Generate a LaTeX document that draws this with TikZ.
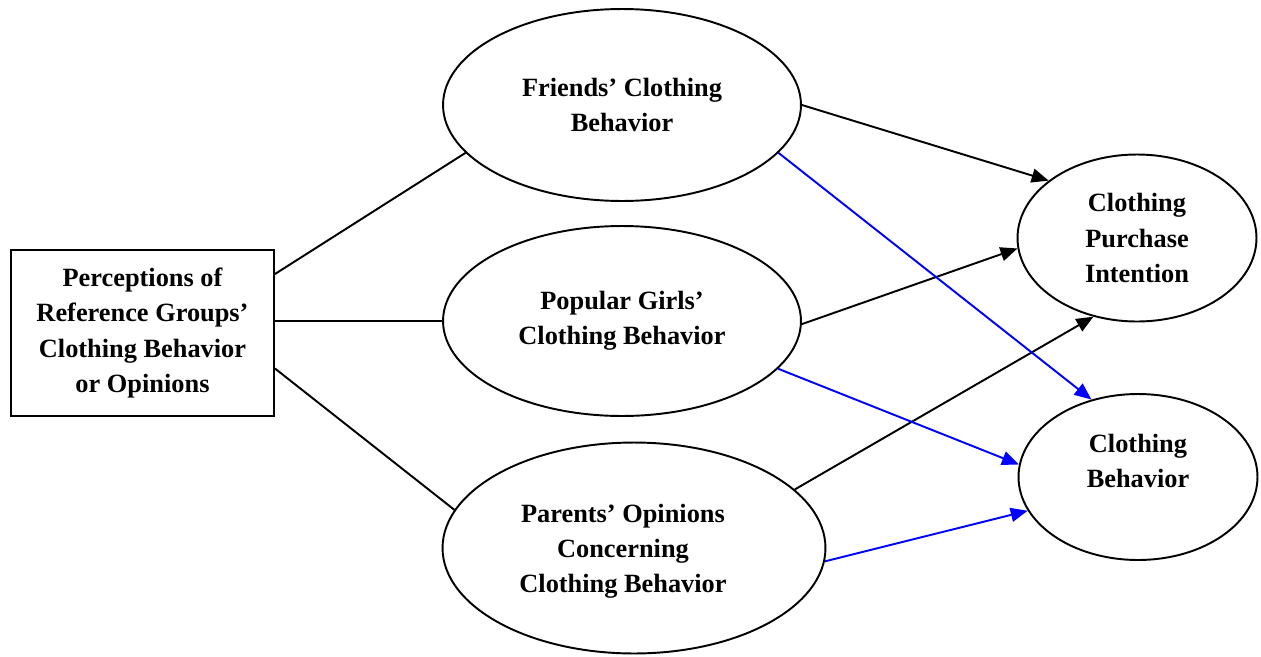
\documentclass[tikz,border=0pt]{standalone}
\usepackage{fontspec}
\setmainfont{Liberation Serif}
\usetikzlibrary{shapes.geometric,arrows.meta}
\definecolor{linkblue}{RGB}{0,0,255}

\begin{document}
\begin{tikzpicture}[x=0.02cm,y=-0.02cm,
  txt/.style={font=\fontsize{15}{20}\selectfont\bfseries,align=center},
  oval/.style={ellipse,draw,line width=1.1pt,inner sep=0pt,txt},
  factor/.style={rectangle,draw,line width=1.1pt,inner sep=0pt,txt,
    minimum width=5.26cm,minimum height=3.32cm},
  link/.style={line width=1.1pt},
  toint/.style={link,-{Triangle[length=0.34cm,width=0.28cm]}},
  tobeh/.style={toint,linkblue}]
  % --- page frame ---
  \useasboundingbox (0,0) rectangle (1261,656);

  % --- predictor box ---
  \node[factor] (groups) at (142.5,333)
    {Perceptions of\\Reference Groups’\\Clothing Behavior\\or Opinions};

  % --- reference groups ---
  \node[oval,minimum width=7.16cm,minimum height=3.84cm] (friends) at (622,105)
    {Friends’ Clothing\\Behavior};
  \node[oval,minimum width=7.16cm,minimum height=3.80cm] (popular) at (622,321)
    {Popular Girls’\\Clothing Behavior};
  \node[oval,minimum width=7.66cm,minimum height=4.22cm] (parents) at (634,548) {};
  \node[txt] (parentstext) at ([xshift=-0.22cm,yshift=-0.06cm]parents.center)
    {Parents’ Opinions\\Concerning\\Clothing Behavior};

  % --- outcomes ---
  \node[oval,minimum width=4.78cm,minimum height=3.34cm] (intent) at (1137,238)
    {Clothing\\Purchase\\Intention};
  \node[oval,minimum width=4.78cm,minimum height=3.32cm] (behav) at (1138,477) {};
  \node[txt] (behavtext) at ([yshift=0.32cm]behav.center) {Clothing\\Behavior};

  % --- box to groups ---
  \draw[link] (groups.24) -- (friends.197);
  \draw[link] (groups.east |- popular.west) -- (popular.west);
  \draw[link] (groups.-15) -- (parents.168);

  % --- paths to intention ---
  \draw[toint] (friends.east) -- (intent.147);
  \draw[toint] (popular.-1) -- (intent.185);
  \draw[toint] (parents.20) -- (intent.241);

  % --- paths to behavior ---
  \draw[tobeh] (friends.-17) -- (behav.121);
  \draw[tobeh] (popular.-17) -- (behav.174);
  \draw[tobeh] (parents.-4) -- (behav.197);
\end{tikzpicture}
\end{document}
